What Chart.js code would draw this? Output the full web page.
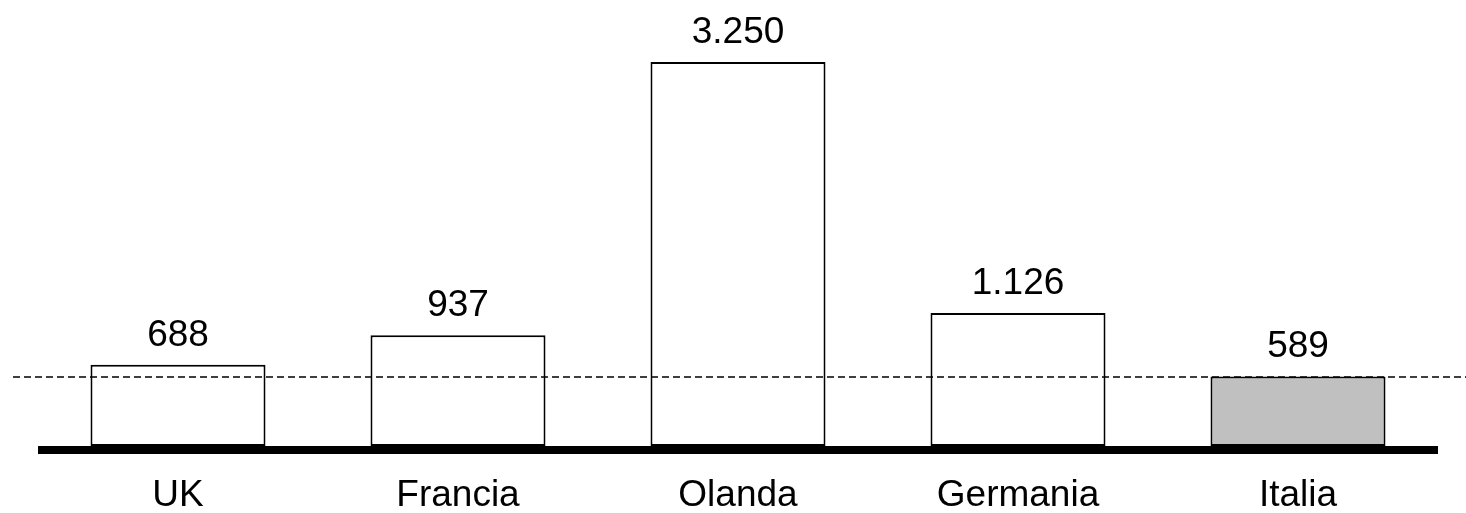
<!DOCTYPE html>
<html>
<head>
<meta charset="utf-8">
<script src="https://cdn.jsdelivr.net/npm/chart.js@4/dist/chart.umd.min.js"></script>
<style>
  html, body { margin: 0; padding: 0; background: #fff; }
  #wrap { width: 1466px; height: 513px; }
</style>
</head>
<body>
<div id="wrap"><canvas id="chart" width="1466" height="513"></canvas></div>
<script>
// data
const countries = ['UK', 'Francia', 'Olanda', 'Germania', 'Italia'];
const values = [688, 937, 3250, 1126, 589];
const valueLabels = ['688', '937', '3.250', '1.126', '589'];
const fills = ['#ffffff', '#ffffff', '#ffffff', '#ffffff', '#c0c0c0'];
const refValue = 589;   // dashed line at the Italia level

const FONT = '"Liberation Sans", Arial, sans-serif';

// value above each bar, thick baseline and dashed reference line
const decorations = {
	id: 'decorations',
	afterDatasetsDraw(chart) {
		const ctx = chart.ctx;
		const y = chart.scales.y;
		const area = chart.chartArea;
		const meta = chart.getDatasetMeta(0);

		ctx.save();
		ctx.fillStyle = '#000';
		ctx.font = '37px ' + FONT;
		ctx.textAlign = 'center';
		ctx.textBaseline = 'alphabetic';
		meta.data.forEach((bar, i) => {
			ctx.fillText(valueLabels[i], bar.x, bar.y - 19);
		});

		// reference line
		const ry = Math.round(y.getPixelForValue(refValue)) + 1;
		ctx.strokeStyle = '#000';
		ctx.lineWidth = 1.5;
		ctx.setLineDash([7, 4]);
		ctx.beginPath();
		ctx.moveTo(13, ry);
		ctx.lineTo(chart.width, ry);
		ctx.stroke();

		// baseline
		const y0 = y.getPixelForValue(0);
		ctx.setLineDash([]);
		ctx.lineWidth = 8;
		ctx.beginPath();
		ctx.moveTo(area.left, y0 + 4);
		ctx.lineTo(area.right, y0 + 4);
		ctx.stroke();
		ctx.restore();
	}
};

new Chart(document.getElementById('chart').getContext('2d'), {
	type: 'bar',
	data: {
		labels: countries,
		datasets: [{
			data: values,
			backgroundColor: fills,
			borderColor: '#000',
			borderWidth: 2,
			borderSkipped: false,
			barPercentage: 0.625,
			categoryPercentage: 1
		}]
	},
	options: {
		responsive: false,
		animation: false,
		layout: { padding: { left: 38, right: 28, top: 62, bottom: 0 } },
		scales: {
			x: {
				grid: { display: false, drawTicks: false },
				border: { display: false },
				afterFit(scale) { scale.height = 67; },
				ticks: {
					color: '#000',
					padding: 28,
					font: { family: FONT, size: 37 }
				}
			},
			y: {
				display: false,
				min: 0,
				max: 3250
			}
		},
		plugins: {
			legend: { display: false },
			tooltip: { enabled: false }
		}
	},
	plugins: [decorations]
});
</script>
</body>
</html>
